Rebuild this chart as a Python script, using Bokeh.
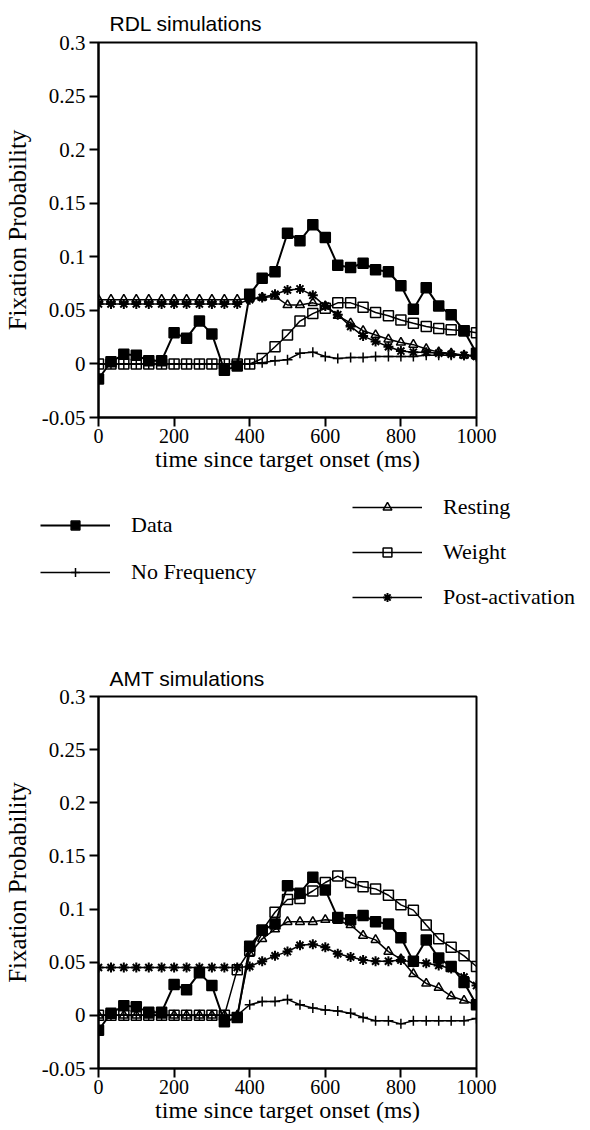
from bokeh.plotting import figure
from bokeh.models import (Range1d, FixedTicker, CustomJSTickFormatter,
                          Legend, LegendItem, ColumnDataSource)
from bokeh.embed import file_html
from bokeh.resources import INLINE

# ---------------- data ----------------
time_ms = [0, 33, 67, 100, 133, 167, 200, 233, 267, 300, 333, 367, 400, 433, 467,
           500, 533, 567, 600, 633, 667, 700, 733, 767, 800, 833, 867, 900, 933,
           967, 1000]

data_obs = [-0.014, 0.002, 0.009, 0.008, 0.003, 0.003, 0.029, 0.024, 0.040, 0.028,
            -0.006, -0.002, 0.065, 0.080, 0.086, 0.122, 0.115, 0.130, 0.118, 0.092,
            0.090, 0.094, 0.088, 0.086, 0.073, 0.051, 0.071, 0.054, 0.046, 0.031,
            0.010]

# RDL simulations
rdl_nofreq = [0.0, 0.0, 0.0, 0.0, 0.0, 0.0, 0.0, 0.0, 0.0, 0.0, 0.0, 0.0, 0.0,
              0.001, 0.003, 0.004, 0.010, 0.011, 0.007, 0.005, 0.006, 0.006, 0.007,
              0.007, 0.007, 0.007, 0.008, 0.008, 0.008, 0.008, 0.008]
rdl_resting = [0.060, 0.060, 0.060, 0.060, 0.060, 0.060, 0.060, 0.060, 0.060, 0.060,
               0.060, 0.060, 0.061, 0.062, 0.063, 0.055, 0.055, 0.057, 0.054, 0.045,
               0.038, 0.031, 0.027, 0.023, 0.020, 0.018, 0.014, 0.011, 0.010, 0.008,
               0.007]
rdl_weight = [0.0, 0.0, 0.0, 0.0, 0.0, 0.0, 0.0, 0.0, 0.0, 0.0, 0.0, 0.0, 0.0,
              0.005, 0.016, 0.027, 0.040, 0.047, 0.052, 0.057, 0.057, 0.053, 0.048,
              0.045, 0.041, 0.038, 0.035, 0.033, 0.032, 0.031, 0.029]
rdl_post = [0.056, 0.056, 0.056, 0.056, 0.056, 0.056, 0.056, 0.056, 0.056, 0.056,
            0.056, 0.056, 0.060, 0.062, 0.065, 0.069, 0.070, 0.064, 0.054, 0.046,
            0.035, 0.026, 0.021, 0.016, 0.012, 0.011, 0.011, 0.010, 0.009, 0.008,
            0.007]

# AMT simulations
amt_nofreq = [0.0, 0.0, 0.0, 0.0, 0.0, 0.0, 0.0, 0.0, 0.0, 0.0, 0.0, 0.0, 0.010,
              0.013, 0.013, 0.015, 0.010, 0.007, 0.005, 0.004, 0.002, -0.002, -0.005,
              -0.005, -0.008, -0.005, -0.005, -0.005, -0.005, -0.005, -0.003]
amt_resting = [0.0, 0.0, 0.0, 0.0, 0.0, 0.0, 0.0, 0.0, 0.0, 0.0, 0.0, 0.0, 0.058,
               0.072, 0.081, 0.088, 0.088, 0.088, 0.090, 0.089, 0.085, 0.075, 0.071,
               0.060, 0.053, 0.039, 0.030, 0.026, 0.018, 0.014, 0.010]
amt_weight = [0.0, 0.0, 0.0, 0.0, 0.0, 0.0, 0.0, 0.0, 0.0, 0.0, 0.0, 0.043, 0.061,
              0.080, 0.097, 0.109, 0.110, 0.117, 0.125, 0.131, 0.125, 0.121, 0.119,
              0.113, 0.104, 0.099, 0.085, 0.072, 0.064, 0.056, 0.046]
amt_post = [0.045, 0.045, 0.045, 0.045, 0.045, 0.045, 0.045, 0.045, 0.045, 0.045,
            0.045, 0.045, 0.046, 0.051, 0.056, 0.060, 0.066, 0.067, 0.064, 0.058,
            0.055, 0.052, 0.051, 0.051, 0.052, 0.050, 0.049, 0.047, 0.044, 0.036,
            0.028]

series_names = ["Data", "No Frequency", "Resting", "Weight", "Post-activation"]
x_ticks = [0, 200, 400, 600, 800, 1000]
y_ticks = [-0.05, 0, 0.05, 0.1, 0.15, 0.2, 0.25, 0.3]

SERIF = "Liberation Serif"
SANS = "Liberation Sans"

STYLES = {
    "Data": dict(marker="square", size=10, fill_alpha=1.0, line_width=1.5, lw=2.0),
    "No Frequency": dict(marker="cross", size=10, fill_alpha=0.0, line_width=1.5, lw=1.5),
    "Resting": dict(marker="triangle", size=9, fill_alpha=0.0, line_width=1.5, lw=1.5),
    "Weight": dict(marker="square", size=10, fill_alpha=0.0, line_width=1.5, lw=1.5),
    "Post-activation": dict(marker="asterisk", size=10, fill_alpha=0.0, line_width=2, lw=1.5),
}


def make_plot(title, series, height, top, bottom, title_standoff):
    p = figure(width=590, height=height, output_backend="svg", toolbar_location=None,
               x_range=Range1d(0, 1000), y_range=Range1d(-0.05, 0.3),
               min_border_left=97, min_border_right=114,
               min_border_top=top, min_border_bottom=bottom,
               title=title)
    p.title.align = "left"
    p.title.offset = 11
    p.title.standoff = title_standoff
    p.title.text_font = SANS
    p.title.text_font_size = "21px"
    p.title.text_font_style = "normal"
    p.title.text_color = "black"

    p.grid.visible = False
    p.outline_line_color = "black"
    p.outline_line_width = 2
    p.background_fill_color = "white"
    p.border_fill_color = "white"

    for ax in (p.xaxis[0], p.yaxis[0]):
        ax.axis_line_width = 2
        ax.major_tick_line_width = 2
        ax.major_tick_out = 9
        ax.major_tick_in = 0
        ax.minor_tick_out = 0
        ax.minor_tick_in = 0
        ax.major_label_text_font = SERIF
        ax.major_label_text_color = "black"
        ax.axis_label_text_font = SERIF
        ax.axis_label_text_font_style = "normal"
        ax.axis_label_text_color = "black"
    p.xaxis.major_label_text_font_size = "20px"
    p.yaxis.major_label_text_font_size = "21px"
    p.xaxis.axis_label_text_font_size = "24px"
    p.yaxis.axis_label_text_font_size = "25px"
    p.xaxis.ticker = FixedTicker(ticks=x_ticks)
    p.yaxis.ticker = FixedTicker(ticks=y_ticks)
    p.yaxis.formatter = CustomJSTickFormatter(code="return String(Math.round(tick*100)/100);")
    p.xaxis.major_label_standoff = 2
    p.xaxis.axis_label_standoff = 0
    p.yaxis.major_label_standoff = 4
    p.yaxis.axis_label_standoff = 8
    p.xaxis.axis_label = "time since target onset (ms)"
    p.yaxis.axis_label = "Fixation Probability"

    for name in series_names:
        ys = series[name]
        st = STYLES[name]
        p.line(time_ms, ys, line_color="black", line_width=st["lw"])
        p.scatter(time_ms, ys, marker=st["marker"], size=st["size"],
                  line_color="black", line_width=st["line_width"],
                  fill_color="black", fill_alpha=st["fill_alpha"])
    return p


top_plot = make_plot("RDL simulations",
                     {"Data": data_obs, "No Frequency": rdl_nofreq, "Resting": rdl_resting,
                      "Weight": rdl_weight, "Post-activation": rdl_post},
                     height=485, top=42, bottom=68, title_standoff=15)

bottom_plot = make_plot("AMT simulations",
                        {"Data": data_obs, "No Frequency": amt_nofreq, "Resting": amt_resting,
                         "Weight": amt_weight, "Post-activation": amt_post},
                        height=505, top=71, bottom=62, title_standoff=13)

# ---------------- legend panel (its own root, so its frame spans the full width) ----
leg = figure(width=590, height=140, output_backend="svg", toolbar_location=None,
             x_range=Range1d(0, 1), y_range=Range1d(0, 1),
             x_axis_type=None, y_axis_type=None, min_border=0)
leg.outline_line_color = None
leg.grid.visible = False

items = {}
for name in series_names:
    st = STYLES[name]
    # sample renderers used only for the legend swatches (kept hidden)
    src = ColumnDataSource(data=dict(x=[0], y=[0]))
    rl = leg.line("x", "y", source=src, line_color="black", line_width=st["lw"], visible=False)
    rm = leg.scatter("x", "y", source=src, marker=st["marker"], size=st["size"],
                     line_color="black", line_width=st["line_width"],
                     fill_color="black", fill_alpha=st["fill_alpha"], visible=False)
    items[name] = LegendItem(label=name, renderers=[rl, rm])


def make_legend(names, loc, spacing):
    return Legend(items=[items[n] for n in names], location=loc, orientation="vertical",
                  glyph_width=70, glyph_height=22, label_height=22, spacing=spacing,
                  padding=0, margin=0, label_standoff=21,
                  border_line_alpha=0, background_fill_alpha=0,
                  label_text_font=SERIF, label_text_font_size="22px",
                  label_text_color="black")


# left column: Data, No Frequency
leg.add_layout(make_legend(["Data", "No Frequency"], (40, 40), 21))
# right column: Resting, Weight, Post-activation
leg.add_layout(make_legend(["Resting", "Weight", "Post-activation"], (352, 15), 19))

open("out.html", "w").write(file_html([top_plot, leg, bottom_plot], INLINE))
